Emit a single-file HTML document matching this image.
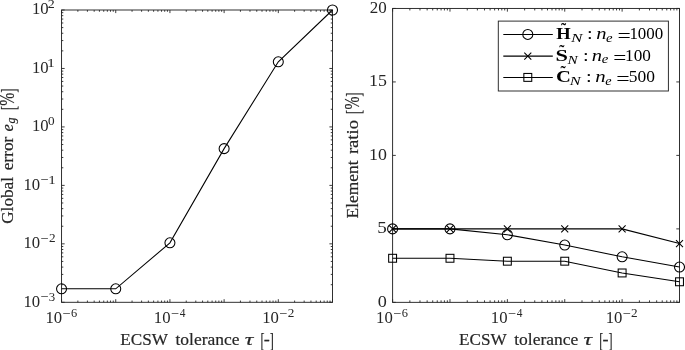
<!DOCTYPE html>
<html><head><meta charset="utf-8"><title>ECSW tolerance study</title>
<style>html,body{margin:0;padding:0;background:#fff}svg{display:block}text{font-kerning:none}</style>
</head><body>
<svg width="685" height="350" viewBox="0 0 685 350">
<rect width="685" height="350" fill="#fff"/>
<rect x="61.55" y="10.0" width="270.95" height="292.30" fill="none" stroke="#262626" stroke-width="0.95"/>
<path d="M61.55 302.3v-3.1M61.55 10.0v3.1M115.74 302.3v-3.1M115.74 10.0v3.1M169.93 302.3v-3.1M169.93 10.0v3.1M224.12 302.3v-3.1M224.12 10.0v3.1M278.31 302.3v-3.1M278.31 10.0v3.1M332.50 302.3v-3.1M332.50 10.0v3.1M77.86 302.3v-1.75M77.86 10.0v1.75M87.41 302.3v-1.75M87.41 10.0v1.75M94.18 302.3v-1.75M94.18 10.0v1.75M99.43 302.3v-1.75M99.43 10.0v1.75M103.72 302.3v-1.75M103.72 10.0v1.75M107.35 302.3v-1.75M107.35 10.0v1.75M110.49 302.3v-1.75M110.49 10.0v1.75M113.26 302.3v-1.75M113.26 10.0v1.75M132.05 302.3v-1.75M132.05 10.0v1.75M141.60 302.3v-1.75M141.60 10.0v1.75M148.37 302.3v-1.75M148.37 10.0v1.75M153.62 302.3v-1.75M153.62 10.0v1.75M157.91 302.3v-1.75M157.91 10.0v1.75M161.54 302.3v-1.75M161.54 10.0v1.75M164.68 302.3v-1.75M164.68 10.0v1.75M167.45 302.3v-1.75M167.45 10.0v1.75M186.24 302.3v-1.75M186.24 10.0v1.75M195.79 302.3v-1.75M195.79 10.0v1.75M202.56 302.3v-1.75M202.56 10.0v1.75M207.81 302.3v-1.75M207.81 10.0v1.75M212.10 302.3v-1.75M212.10 10.0v1.75M215.73 302.3v-1.75M215.73 10.0v1.75M218.87 302.3v-1.75M218.87 10.0v1.75M221.64 302.3v-1.75M221.64 10.0v1.75M240.43 302.3v-1.75M240.43 10.0v1.75M249.98 302.3v-1.75M249.98 10.0v1.75M256.75 302.3v-1.75M256.75 10.0v1.75M262.00 302.3v-1.75M262.00 10.0v1.75M266.29 302.3v-1.75M266.29 10.0v1.75M269.92 302.3v-1.75M269.92 10.0v1.75M273.06 302.3v-1.75M273.06 10.0v1.75M275.83 302.3v-1.75M275.83 10.0v1.75M294.62 302.3v-1.75M294.62 10.0v1.75M304.17 302.3v-1.75M304.17 10.0v1.75M310.94 302.3v-1.75M310.94 10.0v1.75M316.19 302.3v-1.75M316.19 10.0v1.75M320.48 302.3v-1.75M320.48 10.0v1.75M324.11 302.3v-1.75M324.11 10.0v1.75M327.25 302.3v-1.75M327.25 10.0v1.75M330.02 302.3v-1.75M330.02 10.0v1.75M61.55 302.30h3.1M332.5 302.30h-3.1M61.55 243.84h3.1M332.5 243.84h-3.1M61.55 185.38h3.1M332.5 185.38h-3.1M61.55 126.92h3.1M332.5 126.92h-3.1M61.55 68.46h3.1M332.5 68.46h-3.1M61.55 10.00h3.1M332.5 10.00h-3.1M61.55 284.70h1.75M332.5 284.70h-1.75M61.55 274.41h1.75M332.5 274.41h-1.75M61.55 267.10h1.75M332.5 267.10h-1.75M61.55 261.44h1.75M332.5 261.44h-1.75M61.55 256.81h1.75M332.5 256.81h-1.75M61.55 252.90h1.75M332.5 252.90h-1.75M61.55 249.51h1.75M332.5 249.51h-1.75M61.55 246.51h1.75M332.5 246.51h-1.75M61.55 226.24h1.75M332.5 226.24h-1.75M61.55 215.95h1.75M332.5 215.95h-1.75M61.55 208.64h1.75M332.5 208.64h-1.75M61.55 202.98h1.75M332.5 202.98h-1.75M61.55 198.35h1.75M332.5 198.35h-1.75M61.55 194.44h1.75M332.5 194.44h-1.75M61.55 191.05h1.75M332.5 191.05h-1.75M61.55 188.05h1.75M332.5 188.05h-1.75M61.55 167.78h1.75M332.5 167.78h-1.75M61.55 157.49h1.75M332.5 157.49h-1.75M61.55 150.18h1.75M332.5 150.18h-1.75M61.55 144.52h1.75M332.5 144.52h-1.75M61.55 139.89h1.75M332.5 139.89h-1.75M61.55 135.98h1.75M332.5 135.98h-1.75M61.55 132.59h1.75M332.5 132.59h-1.75M61.55 129.59h1.75M332.5 129.59h-1.75M61.55 109.32h1.75M332.5 109.32h-1.75M61.55 99.03h1.75M332.5 99.03h-1.75M61.55 91.72h1.75M332.5 91.72h-1.75M61.55 86.06h1.75M332.5 86.06h-1.75M61.55 81.43h1.75M332.5 81.43h-1.75M61.55 77.52h1.75M332.5 77.52h-1.75M61.55 74.13h1.75M332.5 74.13h-1.75M61.55 71.13h1.75M332.5 71.13h-1.75M61.55 50.86h1.75M332.5 50.86h-1.75M61.55 40.57h1.75M332.5 40.57h-1.75M61.55 33.26h1.75M332.5 33.26h-1.75M61.55 27.60h1.75M332.5 27.60h-1.75M61.55 22.97h1.75M332.5 22.97h-1.75M61.55 19.06h1.75M332.5 19.06h-1.75M61.55 15.67h1.75M332.5 15.67h-1.75M61.55 12.67h1.75M332.5 12.67h-1.75" fill="none" stroke="#262626" stroke-width="0.90"/>
<text y="306.50" font-family="Liberation Serif, serif" font-size="16.5" fill="#262626"><tspan x="23.43" y="306.50" font-size="16.5" textLength="16.70" lengthAdjust="spacingAndGlyphs">10</tspan><tspan x="40.48" y="301.35" font-size="13.6" textLength="8.12" lengthAdjust="spacingAndGlyphs">−</tspan><tspan x="48.89" y="300.55" font-size="11.7" textLength="6.42" lengthAdjust="spacingAndGlyphs">3</tspan></text>
<text y="248.04" font-family="Liberation Serif, serif" font-size="16.5" fill="#262626"><tspan x="23.43" y="248.04" font-size="16.5" textLength="16.70" lengthAdjust="spacingAndGlyphs">10</tspan><tspan x="40.48" y="242.89" font-size="13.6" textLength="8.12" lengthAdjust="spacingAndGlyphs">−</tspan><tspan x="48.92" y="242.09" font-size="11.7" textLength="6.61" lengthAdjust="spacingAndGlyphs">2</tspan></text>
<text y="189.58" font-family="Liberation Serif, serif" font-size="16.5" fill="#262626"><tspan x="23.43" y="189.58" font-size="16.5" textLength="16.70" lengthAdjust="spacingAndGlyphs">10</tspan><tspan x="40.48" y="184.43" font-size="13.6" textLength="8.12" lengthAdjust="spacingAndGlyphs">−</tspan><tspan x="48.18" y="183.63" font-size="11.7" textLength="7.53" lengthAdjust="spacingAndGlyphs">1</tspan></text>
<text y="131.12" font-family="Liberation Serif, serif" font-size="16.5" fill="#262626"><tspan x="31.93" y="131.12" font-size="16.5" textLength="16.70" lengthAdjust="spacingAndGlyphs">10</tspan><tspan x="47.90" y="125.17" font-size="11.7" textLength="6.61" lengthAdjust="spacingAndGlyphs">0</tspan></text>
<text y="72.66" font-family="Liberation Serif, serif" font-size="16.5" fill="#262626"><tspan x="31.93" y="72.66" font-size="16.5" textLength="16.70" lengthAdjust="spacingAndGlyphs">10</tspan><tspan x="47.00" y="66.71" font-size="11.7" textLength="7.95" lengthAdjust="spacingAndGlyphs">1</tspan></text>
<text y="14.20" font-family="Liberation Serif, serif" font-size="16.5" fill="#262626"><tspan x="31.93" y="14.20" font-size="16.5" textLength="16.70" lengthAdjust="spacingAndGlyphs">10</tspan><tspan x="47.79" y="8.25" font-size="11.7" textLength="6.98" lengthAdjust="spacingAndGlyphs">2</tspan></text>
<text y="323.30" font-family="Liberation Serif, serif" font-size="16.5" fill="#262626"><tspan x="45.48" y="323.30" font-size="16.5" textLength="16.70" lengthAdjust="spacingAndGlyphs">10</tspan><tspan x="62.53" y="318.15" font-size="13.6" textLength="8.12" lengthAdjust="spacingAndGlyphs">−</tspan><tspan x="71.02" y="317.35" font-size="11.7" textLength="6.20" lengthAdjust="spacingAndGlyphs">6</tspan></text>
<text y="323.30" font-family="Liberation Serif, serif" font-size="16.5" fill="#262626"><tspan x="153.86" y="323.30" font-size="16.5" textLength="16.70" lengthAdjust="spacingAndGlyphs">10</tspan><tspan x="170.91" y="318.15" font-size="13.6" textLength="8.12" lengthAdjust="spacingAndGlyphs">−</tspan><tspan x="179.71" y="317.35" font-size="11.7" textLength="5.70" lengthAdjust="spacingAndGlyphs">4</tspan></text>
<text y="323.30" font-family="Liberation Serif, serif" font-size="16.5" fill="#262626"><tspan x="262.24" y="323.30" font-size="16.5" textLength="16.70" lengthAdjust="spacingAndGlyphs">10</tspan><tspan x="279.29" y="318.15" font-size="13.6" textLength="8.12" lengthAdjust="spacingAndGlyphs">−</tspan><tspan x="287.73" y="317.35" font-size="11.7" textLength="6.61" lengthAdjust="spacingAndGlyphs">2</tspan></text>
<polyline points="61.55,288.83 115.74,288.83 169.93,242.84 224.12,148.64 278.31,61.80 332.50,10.00" fill="none" stroke="#000" stroke-width="1.05"/>
<circle cx="61.55" cy="288.83" r="5.0" fill="none" stroke="#000" stroke-width="1.05"/>
<circle cx="115.74" cy="288.83" r="5.0" fill="none" stroke="#000" stroke-width="1.05"/>
<circle cx="169.93" cy="242.84" r="5.0" fill="none" stroke="#000" stroke-width="1.05"/>
<circle cx="224.12" cy="148.64" r="5.0" fill="none" stroke="#000" stroke-width="1.05"/>
<circle cx="278.31" cy="61.80" r="5.0" fill="none" stroke="#000" stroke-width="1.05"/>
<circle cx="332.50" cy="10.00" r="5.0" fill="none" stroke="#000" stroke-width="1.05"/>
<text transform="translate(120.80 345.00)" font-family="Liberation Serif, serif" font-size="17.0" fill="#262626" stroke="#262626" stroke-width="0.2"><tspan x="-0.49" y="0.00" font-size="17.0" textLength="47.63" lengthAdjust="spacingAndGlyphs">ECSW</tspan> <tspan x="54.73" y="0.00" font-size="17.0" textLength="63.98" lengthAdjust="spacingAndGlyphs">tolerance</tspan> <tspan x="124.07" y="0.00" font-size="17.5" font-style="italic" textLength="8.60" lengthAdjust="spacingAndGlyphs">τ</tspan> <tspan x="139.70" y="1.80" font-size="21.0" textLength="4.04" lengthAdjust="spacingAndGlyphs">[</tspan><tspan x="142.93" y="0.00" font-size="17.0" textLength="6.03" lengthAdjust="spacingAndGlyphs">-</tspan><tspan x="149.06" y="1.80" font-size="21.0" textLength="4.04" lengthAdjust="spacingAndGlyphs">]</tspan></text>
<text transform="translate(13.00 223.10) rotate(-90)" font-family="Liberation Serif, serif" font-size="17.0" fill="#262626" stroke="#262626" stroke-width="0.2"><tspan x="-0.70" y="0.00" font-size="17.0" textLength="46.75" lengthAdjust="spacingAndGlyphs">Global</tspan> <tspan x="52.83" y="0.00" font-size="17.0" textLength="33.53" lengthAdjust="spacingAndGlyphs">error</tspan> <tspan x="91.69" y="0.00" font-size="16.8" font-style="italic" textLength="7.39" lengthAdjust="spacingAndGlyphs">e</tspan><tspan x="99.49" y="2.00" font-size="11.7" font-style="italic" textLength="5.95" lengthAdjust="spacingAndGlyphs">g</tspan> <tspan x="113.20" y="1.80" font-size="21.0" textLength="4.04" lengthAdjust="spacingAndGlyphs">[</tspan><tspan x="117.46" y="0.85" font-size="20.2" textLength="13.07" lengthAdjust="spacingAndGlyphs">%</tspan><tspan x="130.46" y="1.80" font-size="21.0" textLength="4.04" lengthAdjust="spacingAndGlyphs">]</tspan></text>
<rect x="392.6" y="8.45" width="286.90" height="293.90" fill="none" stroke="#262626" stroke-width="0.95"/>
<path d="M392.60 302.35v-3.2M392.60 8.45v3.2M449.98 302.35v-3.2M449.98 8.45v3.2M507.36 302.35v-3.2M507.36 8.45v3.2M564.74 302.35v-3.2M564.74 8.45v3.2M622.12 302.35v-3.2M622.12 8.45v3.2M679.50 302.35v-3.2M679.50 8.45v3.2M409.87 302.35v-2.0M409.87 8.45v2.0M419.98 302.35v-2.0M419.98 8.45v2.0M427.15 302.35v-2.0M427.15 8.45v2.0M432.71 302.35v-2.0M432.71 8.45v2.0M437.25 302.35v-2.0M437.25 8.45v2.0M441.09 302.35v-2.0M441.09 8.45v2.0M444.42 302.35v-2.0M444.42 8.45v2.0M447.35 302.35v-2.0M447.35 8.45v2.0M467.25 302.35v-2.0M467.25 8.45v2.0M477.36 302.35v-2.0M477.36 8.45v2.0M484.53 302.35v-2.0M484.53 8.45v2.0M490.09 302.35v-2.0M490.09 8.45v2.0M494.63 302.35v-2.0M494.63 8.45v2.0M498.47 302.35v-2.0M498.47 8.45v2.0M501.80 302.35v-2.0M501.80 8.45v2.0M504.73 302.35v-2.0M504.73 8.45v2.0M524.63 302.35v-2.0M524.63 8.45v2.0M534.74 302.35v-2.0M534.74 8.45v2.0M541.91 302.35v-2.0M541.91 8.45v2.0M547.47 302.35v-2.0M547.47 8.45v2.0M552.01 302.35v-2.0M552.01 8.45v2.0M555.85 302.35v-2.0M555.85 8.45v2.0M559.18 302.35v-2.0M559.18 8.45v2.0M562.11 302.35v-2.0M562.11 8.45v2.0M582.01 302.35v-2.0M582.01 8.45v2.0M592.12 302.35v-2.0M592.12 8.45v2.0M599.29 302.35v-2.0M599.29 8.45v2.0M604.85 302.35v-2.0M604.85 8.45v2.0M609.39 302.35v-2.0M609.39 8.45v2.0M613.23 302.35v-2.0M613.23 8.45v2.0M616.56 302.35v-2.0M616.56 8.45v2.0M619.49 302.35v-2.0M619.49 8.45v2.0M639.39 302.35v-2.0M639.39 8.45v2.0M649.50 302.35v-2.0M649.50 8.45v2.0M656.67 302.35v-2.0M656.67 8.45v2.0M662.23 302.35v-2.0M662.23 8.45v2.0M666.77 302.35v-2.0M666.77 8.45v2.0M670.61 302.35v-2.0M670.61 8.45v2.0M673.94 302.35v-2.0M673.94 8.45v2.0M676.87 302.35v-2.0M676.87 8.45v2.0M392.6 302.35h3.2M679.5 302.35h-3.2M392.6 228.88h3.2M679.5 228.88h-3.2M392.6 155.40h3.2M679.5 155.40h-3.2M392.6 81.93h3.2M679.5 81.93h-3.2M392.6 8.45h3.2M679.5 8.45h-3.2" fill="none" stroke="#262626" stroke-width="0.90"/>
<text y="306.85" font-family="Liberation Serif, serif" font-size="16.5" fill="#262626"><tspan x="377.81" font-size="16.5" textLength="9.08" lengthAdjust="spacingAndGlyphs">0</tspan></text>
<text y="233.38" font-family="Liberation Serif, serif" font-size="16.5" fill="#262626"><tspan x="377.39" font-size="16.5" textLength="9.56" lengthAdjust="spacingAndGlyphs">5</tspan></text>
<text y="159.90" font-family="Liberation Serif, serif" font-size="16.5" fill="#262626"><tspan x="369.03" font-size="16.5" textLength="17.85" lengthAdjust="spacingAndGlyphs">10</tspan></text>
<text y="86.43" font-family="Liberation Serif, serif" font-size="16.5" fill="#262626"><tspan x="369.03" font-size="16.5" textLength="17.87" lengthAdjust="spacingAndGlyphs">15</tspan></text>
<text y="12.95" font-family="Liberation Serif, serif" font-size="16.5" fill="#262626"><tspan x="369.85" font-size="16.5" textLength="16.99" lengthAdjust="spacingAndGlyphs">20</tspan></text>
<text y="323.30" font-family="Liberation Serif, serif" font-size="16.5" fill="#262626"><tspan x="376.13" y="323.30" font-size="16.5" textLength="16.70" lengthAdjust="spacingAndGlyphs">10</tspan><tspan x="393.18" y="318.15" font-size="13.6" textLength="8.12" lengthAdjust="spacingAndGlyphs">−</tspan><tspan x="401.67" y="317.35" font-size="11.7" textLength="6.20" lengthAdjust="spacingAndGlyphs">6</tspan></text>
<text y="323.30" font-family="Liberation Serif, serif" font-size="16.5" fill="#262626"><tspan x="490.89" y="323.30" font-size="16.5" textLength="16.70" lengthAdjust="spacingAndGlyphs">10</tspan><tspan x="507.94" y="318.15" font-size="13.6" textLength="8.12" lengthAdjust="spacingAndGlyphs">−</tspan><tspan x="516.74" y="317.35" font-size="11.7" textLength="5.70" lengthAdjust="spacingAndGlyphs">4</tspan></text>
<text y="323.30" font-family="Liberation Serif, serif" font-size="16.5" fill="#262626"><tspan x="605.65" y="323.30" font-size="16.5" textLength="16.70" lengthAdjust="spacingAndGlyphs">10</tspan><tspan x="622.70" y="318.15" font-size="13.6" textLength="8.12" lengthAdjust="spacingAndGlyphs">−</tspan><tspan x="631.14" y="317.35" font-size="11.7" textLength="6.61" lengthAdjust="spacingAndGlyphs">2</tspan></text>
<text transform="translate(459.50 345.00)" font-family="Liberation Serif, serif" font-size="17.0" fill="#262626" stroke="#262626" stroke-width="0.2"><tspan x="-0.49" y="0.00" font-size="17.0" textLength="47.63" lengthAdjust="spacingAndGlyphs">ECSW</tspan> <tspan x="54.73" y="0.00" font-size="17.0" textLength="63.98" lengthAdjust="spacingAndGlyphs">tolerance</tspan> <tspan x="124.07" y="0.00" font-size="17.5" font-style="italic" textLength="8.60" lengthAdjust="spacingAndGlyphs">τ</tspan> <tspan x="139.70" y="1.80" font-size="21.0" textLength="4.04" lengthAdjust="spacingAndGlyphs">[</tspan><tspan x="142.93" y="0.00" font-size="17.0" textLength="6.03" lengthAdjust="spacingAndGlyphs">-</tspan><tspan x="149.06" y="1.80" font-size="21.0" textLength="4.04" lengthAdjust="spacingAndGlyphs">]</tspan></text>
<text transform="translate(358.40 217.90) rotate(-90)" font-family="Liberation Serif, serif" font-size="17.0" fill="#262626" stroke="#262626" stroke-width="0.2"><tspan x="-0.50" y="0.00" font-size="17.0" textLength="58.00" lengthAdjust="spacingAndGlyphs">Element</tspan> <tspan x="63.83" y="0.00" font-size="17.0" textLength="34.08" lengthAdjust="spacingAndGlyphs">ratio</tspan> <tspan x="104.00" y="1.80" font-size="21.0" textLength="4.04" lengthAdjust="spacingAndGlyphs">[</tspan><tspan x="108.31" y="0.85" font-size="20.2" textLength="13.07" lengthAdjust="spacingAndGlyphs">%</tspan><tspan x="121.26" y="1.80" font-size="21.0" textLength="4.04" lengthAdjust="spacingAndGlyphs">]</tspan></text>
<polyline points="392.60,228.88 449.98,228.88 507.36,234.75 564.74,245.04 622.12,256.80 679.50,267.08" fill="none" stroke="#000" stroke-width="1.05"/>
<polyline points="392.60,228.88 449.98,228.88 507.36,228.88 564.74,228.88 622.12,228.88 679.50,243.57" fill="none" stroke="#000" stroke-width="1.05"/>
<polyline points="392.60,258.27 449.98,258.27 507.36,261.20 564.74,261.20 622.12,272.96 679.50,281.78" fill="none" stroke="#000" stroke-width="1.05"/>
<circle cx="392.60" cy="228.88" r="5.0" fill="none" stroke="#000" stroke-width="1.05"/>
<circle cx="449.98" cy="228.88" r="5.0" fill="none" stroke="#000" stroke-width="1.05"/>
<circle cx="507.36" cy="234.75" r="5.0" fill="none" stroke="#000" stroke-width="1.05"/>
<circle cx="564.74" cy="245.04" r="5.0" fill="none" stroke="#000" stroke-width="1.05"/>
<circle cx="622.12" cy="256.80" r="5.0" fill="none" stroke="#000" stroke-width="1.05"/>
<circle cx="679.50" cy="267.08" r="5.0" fill="none" stroke="#000" stroke-width="1.05"/>
<path d="M389.10 225.38l7.0 7.0M389.10 232.38l7.0 -7.0" fill="none" stroke="#000" stroke-width="1.05"/>
<path d="M446.48 225.38l7.0 7.0M446.48 232.38l7.0 -7.0" fill="none" stroke="#000" stroke-width="1.05"/>
<path d="M503.86 225.38l7.0 7.0M503.86 232.38l7.0 -7.0" fill="none" stroke="#000" stroke-width="1.05"/>
<path d="M561.24 225.38l7.0 7.0M561.24 232.38l7.0 -7.0" fill="none" stroke="#000" stroke-width="1.05"/>
<path d="M618.62 225.38l7.0 7.0M618.62 232.38l7.0 -7.0" fill="none" stroke="#000" stroke-width="1.05"/>
<path d="M676.00 240.07l7.0 7.0M676.00 247.07l7.0 -7.0" fill="none" stroke="#000" stroke-width="1.05"/>
<rect x="388.65" y="254.32" width="7.9" height="7.9" fill="none" stroke="#000" stroke-width="1.05"/>
<rect x="446.03" y="254.32" width="7.9" height="7.9" fill="none" stroke="#000" stroke-width="1.05"/>
<rect x="503.41" y="257.25" width="7.9" height="7.9" fill="none" stroke="#000" stroke-width="1.05"/>
<rect x="560.79" y="257.25" width="7.9" height="7.9" fill="none" stroke="#000" stroke-width="1.05"/>
<rect x="618.17" y="269.01" width="7.9" height="7.9" fill="none" stroke="#000" stroke-width="1.05"/>
<rect x="675.55" y="277.83" width="7.9" height="7.9" fill="none" stroke="#000" stroke-width="1.05"/>
<rect x="498.3" y="21.1" width="170.1" height="69.9" fill="#fff" stroke="#262626" stroke-width="0.95"/>
<path d="M503.3 34.4H552.8" stroke="#000" stroke-width="1.05"/>
<circle cx="527.80" cy="34.40" r="5.0" fill="none" stroke="#000" stroke-width="1.05"/>
<text y="38.90" font-family="Liberation Serif, serif" font-size="16.5" fill="#000"><tspan x="561.00" y="32.50" font-size="15.5" font-weight="bold">˜</tspan><tspan x="556.38" y="38.90" font-size="17" font-weight="bold" textLength="14.42" lengthAdjust="spacingAndGlyphs">H</tspan><tspan x="571.03" y="41.90" font-size="12.6" font-style="italic" textLength="11.48" lengthAdjust="spacingAndGlyphs">N</tspan> <tspan x="586.99" y="38.90" font-size="16.5" textLength="5.67" lengthAdjust="spacingAndGlyphs">:</tspan> <tspan x="596.27" y="38.90" font-size="16.8" font-style="italic" textLength="10.29" lengthAdjust="spacingAndGlyphs">n</tspan><tspan x="605.94" y="41.60" font-size="12.8" font-style="italic" textLength="6.59" lengthAdjust="spacingAndGlyphs">e</tspan> <tspan x="617.52" y="41.80" font-size="18" textLength="13.33" lengthAdjust="spacingAndGlyphs">=</tspan><tspan x="629.41" y="38.90" font-size="16.5" textLength="33.83" lengthAdjust="spacingAndGlyphs">1000</tspan></text>
<path d="M503.3 56.1H552.8" stroke="#000" stroke-width="1.05"/>
<path d="M524.30 52.60l7.0 7.0M524.30 59.60l7.0 -7.0" fill="none" stroke="#000" stroke-width="1.05"/>
<text y="60.60" font-family="Liberation Serif, serif" font-size="16.5" fill="#000"><tspan x="559.25" y="54.90" font-size="15.5" font-weight="bold">˜</tspan><tspan x="555.51" y="60.60" font-size="17" font-weight="bold" textLength="12.44" lengthAdjust="spacingAndGlyphs">S</tspan><tspan x="567.51" y="63.60" font-size="12.6" font-style="italic" textLength="10.18" lengthAdjust="spacingAndGlyphs">N</tspan> <tspan x="583.09" y="60.60" font-size="16.5" textLength="5.67" lengthAdjust="spacingAndGlyphs">:</tspan> <tspan x="591.87" y="60.60" font-size="16.8" font-style="italic" textLength="10.29" lengthAdjust="spacingAndGlyphs">n</tspan><tspan x="601.74" y="63.30" font-size="12.8" font-style="italic" textLength="6.59" lengthAdjust="spacingAndGlyphs">e</tspan> <tspan x="613.34" y="63.50" font-size="18" textLength="13.09" lengthAdjust="spacingAndGlyphs">=</tspan><tspan x="625.09" y="60.60" font-size="16.5" textLength="25.76" lengthAdjust="spacingAndGlyphs">100</tspan></text>
<path d="M503.3 77.4H552.8" stroke="#000" stroke-width="1.05"/>
<rect x="523.85" y="73.45" width="7.9" height="7.9" fill="none" stroke="#000" stroke-width="1.05"/>
<text y="81.90" font-family="Liberation Serif, serif" font-size="16.5" fill="#000"><tspan x="560.55" y="76.20" font-size="15.5" font-weight="bold">˜</tspan><tspan x="555.99" y="81.90" font-size="17" font-weight="bold" textLength="14.87" lengthAdjust="spacingAndGlyphs">C</tspan><tspan x="569.82" y="84.90" font-size="12.6" font-style="italic" textLength="10.92" lengthAdjust="spacingAndGlyphs">N</tspan> <tspan x="586.09" y="81.90" font-size="16.5" textLength="5.67" lengthAdjust="spacingAndGlyphs">:</tspan> <tspan x="595.16" y="81.90" font-size="16.8" font-style="italic" textLength="10.41" lengthAdjust="spacingAndGlyphs">n</tspan><tspan x="605.26" y="84.60" font-size="12.8" font-style="italic" textLength="6.36" lengthAdjust="spacingAndGlyphs">e</tspan> <tspan x="616.21" y="84.80" font-size="18" textLength="13.45" lengthAdjust="spacingAndGlyphs">=</tspan><tspan x="628.69" y="81.90" font-size="16.5" textLength="26.18" lengthAdjust="spacingAndGlyphs">500</tspan></text>
</svg>
</body></html>
